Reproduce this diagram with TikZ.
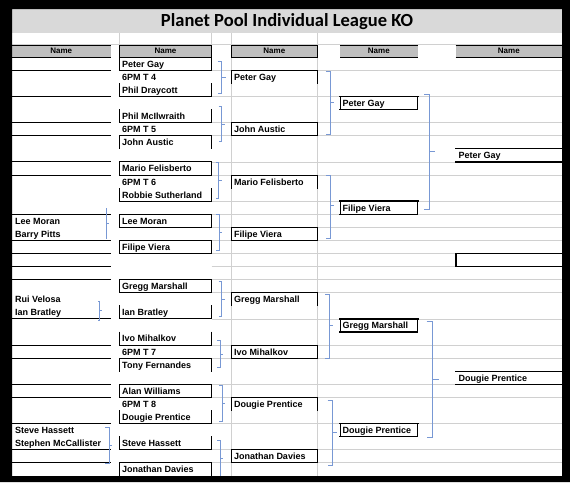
\documentclass[tikz,border=0pt]{standalone}
\usepackage{fontspec}
\setmainfont{Liberation Sans}
\newfontfamily\titlefont{Carlito}
\definecolor{gridc}{RGB}{208,208,208}
\definecolor{hdrc}{RGB}{191,191,191}
\definecolor{titlec}{RGB}{217,217,217}
\definecolor{bracec}{RGB}{120,152,212}
\newcommand\Y[1]{(57.3+13.08*(#1))}
\tikzset{
  bl/.style={black,line width=0.9pt,line cap=rect},
  thk/.style={line width=1.6pt},
  gr/.style={gridc,line width=0.8pt},
  br/.style={bracec,line width=0.9pt},
  txt/.style={anchor=base west,inner sep=0pt,font=\bfseries\fontsize{9}{10}\selectfont},
  hdr/.style={inner sep=0pt,font=\bfseries\fontsize{8}{9}\selectfont}
}
% horizontal black line: [opts]{x1}{x2}{boundary}
\newcommand\HL[4][]{\draw[bl,#1] (#2,{\Y{#4}}) -- (#3,{\Y{#4}});}
% both side lines of row r: {x1}{x2}{r}
\newcommand\SD[4][]{\draw[bl,#1] (#2,{\Y{#4-1}}) -- (#2,{\Y{#4}}) (#3,{\Y{#4-1}}) -- (#3,{\Y{#4}});}
% brace: x, ytop, ybot, ymid, hook, tick
\newcommand\BR[6]{\draw[br] ({#1-#5},#2) -- (#1,#2) -- (#1,#3) -- ({#1-#5},#3) (#1,#4) -- ({#1+#6},#4);}
% text: name, x, row, text
\newcommand\T[4]{\node[txt] (#1) at (#2,{\Y{#3}-3.1}) {#4};}
% header: name, x1, x2
\newcommand\HD[3]{\fill[hdrc] (#2,45) rectangle (#3,57.3);
  \draw[black,line width=0.7pt] (#2,45) -- (#3,45);
  \draw[black,line width=1.3pt] (#2,57.3) -- (#3,57.3);
  \node[hdr] (#1) at ({(#2+#3)/2},51.2) {Name};}
\begin{document}
\begin{tikzpicture}[x=1pt,y=-1pt]
\fill[white] (0,0) rectangle (570,482);
% title band
\fill[titlec] (12,9) rectangle (562,33);
\node[inner sep=0pt,font=\titlefont\bfseries\fontsize{18.5}{20}\selectfont] (title) at (287,21.6) {Planet Pool Individual League KO};
% grid lines
\draw[gr] (12,44.3) -- (562,44.3);
\draw[gr] (119.3,33) -- (119.3,45) (211.7,33) -- (211.7,45);
\draw[gr] (231,33) -- (231,476) (317.7,33) -- (317.7,476);
\foreach \b in {1,3,5,6,8,9,11,12,13,14,15,16,17,18,20,22,23,25,26,28,30,31}
  \draw[gr] (211.7,{\Y{\b}}) -- (562,{\Y{\b}});
% headers
\HD{h1}{12}{110.5}
\HD{h2}{119.3}{211.7}
\HD{h3}{231}{317.7}
\HD{h4}{340}{417.7}
\HD{h5}{455.7}{562}
\draw[black,line width=0.8pt] (119.3,45) -- (119.3,57.3) (211.7,45) -- (211.7,57.3)
  (231,45) -- (231,57.3) (317.7,45) -- (317.7,57.3);
% column 1 lines
\foreach \b in {1,3,5,6,8,9,12,14,15,16,17,20,22,23,25,26,28,30,31}
  \draw[bl] (12,{\Y{\b}}) -- (110.5,{\Y{\b}});
% column 2 boxes
\def\xa{119.3}\def\xb{211.7}
\HL{\xa}{\xb}{1}\SD{\xa}{\xb}{1}\SD{\xa}{\xb}{3}\HL{\xa}{\xb}{3}
\SD{\xa}{\xb}{5}\HL{\xa}{\xb}{5}\HL{\xa}{\xb}{6}\SD{\xa}{\xb}{7}
\HL{\xa}{\xb}{8}\HL{\xa}{\xb}{9}\SD{\xa}{\xb}{9}\SD{\xa}{\xb}{11}\HL{\xa}{\xb}{11}
\HL{\xa}{\xb}{12}\HL{\xa}{\xb}{13}\SD{\xa}{\xb}{13}\HL{\xa}{\xb}{14}\HL{\xa}{\xb}{15}\SD{\xa}{\xb}{15}
\HL{\xa}{\xb}{17}\HL{\xa}{\xb}{18}\SD{\xa}{\xb}{18}\SD{\xa}{\xb}{20}\HL{\xa}{\xb}{20}
\SD{\xa}{\xb}{22}\HL{\xa}{\xb}{22}\HL{\xa}{\xb}{23}\SD{\xa}{\xb}{24}
\HL{\xa}{\xb}{25}\HL{\xa}{\xb}{26}\SD{\xa}{\xb}{26}\SD{\xa}{\xb}{28}\HL{\xa}{\xb}{28}
\SD{\xa}{\xb}{30}\HL{\xa}{\xb}{30}\HL{\xa}{\xb}{31}\SD{\xa}{\xb}{32}
% column 3 boxes
\def\xc{231}\def\xd{317.7}
\HL{\xc}{\xd}{1}\SD{\xc}{\xd}{2}
\HL{\xc}{\xd}{5}\HL{\xc}{\xd}{6}\SD{\xc}{\xd}{6}
\HL{\xc}{\xd}{9}\SD{\xc}{\xd}{10}
\HL{\xc}{\xd}{13}\HL{\xc}{\xd}{14}\SD{\xc}{\xd}{14}
\HL{\xc}{\xd}{18}\SD{\xc}{\xd}{19}
\HL{\xc}{\xd}{22}\HL{\xc}{\xd}{23}\SD{\xc}{\xd}{23}
\HL{\xc}{\xd}{26}\SD{\xc}{\xd}{27}
\HL{\xc}{\xd}{30}\HL{\xc}{\xd}{31}\SD{\xc}{\xd}{31}
% column 4 boxes
\def\xe{340}\def\xf{417.7}
\foreach \r in {4,12,21,29}{
  \SD{\xe}{\xf}{\r}
  \HL[line width=1.2pt]{\xe}{\xf}{\r}
  \HL[thk]{\xe}{\xf}{\r-1}
}
% column 5
\def\xg{455.7}\def\xh{562}
\HL{\xg}{\xh}{7}\HL[thk]{\xg}{\xh}{8}
\HL[thk]{\xg}{\xh}{15}\HL[thk]{\xg}{\xh}{16}
\draw[bl,thk] (\xg,{\Y{15}}) -- (\xg,{\Y{16}});
\HL{\xg}{\xh}{24}\HL[thk]{\xg}{\xh}{25}
% braces
\BR{106}{208}{239}{223.3}{0}{2.5}
\BR{99.5}{301.7}{320}{310}{1.5}{2.5}
\BR{109}{427.3}{463.3}{445}{4}{3}
\BR{221.7}{61}{93}{77.5}{4}{4}
\BR{221.7}{106}{141.5}{124}{3}{3}
\BR{218.5}{162.3}{198.3}{180}{3}{3}
\BR{219}{214}{250}{232}{3}{3}
\BR{221.7}{281}{316.7}{299}{3}{3}
\BR{220}{340}{367.3}{354}{3}{3}
\BR{222.3}{385.7}{421}{403}{3}{3}
\BR{220}{440}{476}{458}{3}{3}
\BR{330}{71.7}{134.3}{102.3}{4}{4}
\BR{330}{175}{238.3}{205.7}{4}{4}
\BR{329.3}{294.3}{358.3}{325.7}{4}{4}
\BR{332.7}{400.7}{465}{432.7}{5}{4}
\BR{429.3}{94}{209}{151.7}{5}{6}
\BR{432.7}{321.7}{437.3}{379.3}{6}{6}
% column 1 texts
\T{a13}{15}{13}{Lee Moran}
\T{a14}{15}{14}{Barry Pitts}
\T{a19}{15}{19}{Rui Velosa}
\T{a20}{15}{20}{Ian Bratley}
\T{a29}{15}{29}{Steve Hassett}
\T{a30}{15}{30}{Stephen McCallister}
% column 2 texts
\T{b1}{122}{1}{Peter Gay}
\T{b2}{122}{2}{6PM T 4}
\T{b3}{122}{3}{Phil Draycott}
\T{b5}{122}{5}{Phil McIlwraith}
\T{b6}{122}{6}{6PM T 5}
\T{b7}{122}{7}{John Austic}
\T{b9}{122}{9}{Mario Felisberto}
\T{b10}{122}{10}{6PM T 6}
\T{b11}{122}{11}{Robbie Sutherland}
\T{b13}{122}{13}{Lee Moran}
\T{b15}{122}{15}{Filipe Viera}
\T{b18}{122}{18}{Gregg Marshall}
\T{b20}{122}{20}{Ian Bratley}
\T{b22}{122}{22}{Ivo Mihalkov}
\T{b23}{122}{23}{6PM T 7}
\T{b24}{122}{24}{Tony Fernandes}
\T{b26}{122}{26}{Alan Williams}
\T{b27}{122}{27}{6PM T 8}
\T{b28}{122}{28}{Dougie Prentice}
\T{b30}{122}{30}{Steve Hassett}
\T{b32}{122}{32}{Jonathan Davies}
% column 3 texts
\T{c2}{233.8}{2}{Peter Gay}
\T{c6}{233.8}{6}{John Austic}
\T{c10}{233.8}{10}{Mario Felisberto}
\T{c14}{233.8}{14}{Filipe Viera}
\T{c19}{233.8}{19}{Gregg Marshall}
\T{c23}{233.8}{23}{Ivo Mihalkov}
\T{c27}{233.8}{27}{Dougie Prentice}
\T{c31}{233.8}{31}{Jonathan Davies}
% column 4 texts
\T{d4}{342.5}{4}{Peter Gay}
\T{d12}{342.5}{12}{Filipe Viera}
\T{d21}{342.5}{21}{Gregg Marshall}
\T{d29}{342.5}{29}{Dougie Prentice}
% column 5 texts
\T{e8}{458.5}{8}{Peter Gay}
\T{e25}{458.5}{25}{Dougie Prentice}
% outer black frame
\fill[black,even odd rule] (0,0) rectangle (570,482) (12,9) rectangle (562,476);
\end{tikzpicture}
\end{document}
